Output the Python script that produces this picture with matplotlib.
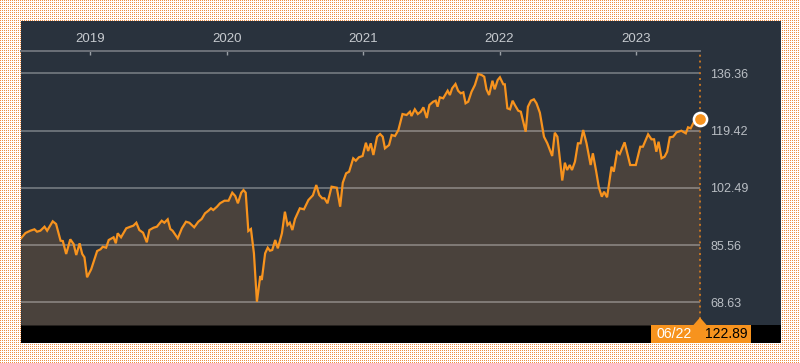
import matplotlib
matplotlib.use('Agg')
import matplotlib.pyplot as plt
import numpy as np
import pandas as pd
from matplotlib.patches import Rectangle, Polygon

plt.rcParams['font.family'] = ['Liberation Sans', 'DejaVu Sans']

# ---------------- data ----------------
date_strings = [
    "2018-06-29", "2018-07-11", "2018-07-24", "2018-08-04", "2018-08-11", "2018-08-20", "2018-08-31",
    "2018-09-07", "2018-09-22", "2018-10-01", "2018-10-13", "2018-10-19", "2018-10-28", "2018-11-08",
    "2018-11-17", "2018-11-24", "2018-12-03", "2018-12-10", "2018-12-16", "2018-12-23", "2019-01-03",
    "2019-01-19", "2019-01-28", "2019-02-03", "2019-02-12", "2019-02-19", "2019-03-04", "2019-03-10",
    "2019-03-15", "2019-03-24", "2019-04-07", "2019-04-18", "2019-04-26", "2019-05-04", "2019-05-12",
    "2019-05-22", "2019-06-01", "2019-06-08", "2019-06-19", "2019-06-28", "2019-07-11", "2019-07-18",
    "2019-07-27", "2019-08-03", "2019-08-09", "2019-08-23", "2019-09-03", "2019-09-14", "2019-09-23",
    "2019-10-06", "2019-10-17", "2019-10-26", "2019-11-04", "2019-11-13", "2019-11-20", "2019-11-26",
    "2019-12-06", "2019-12-14", "2019-12-26", "2020-01-06", "2020-01-16", "2020-01-24", "2020-01-31",
    "2020-02-09", "2020-02-15", "2020-02-21", "2020-02-28", "2020-03-06", "2020-03-14", "2020-03-22",
    "2020-03-31", "2020-04-04", "2020-04-13", "2020-04-20", "2020-04-26", "2020-05-02", "2020-05-10",
    "2020-05-17", "2020-05-28", "2020-06-05", "2020-06-12", "2020-06-18", "2020-06-25", "2020-07-02",
    "2020-07-15", "2020-07-26", "2020-08-07", "2020-08-19", "2020-08-28", "2020-09-05", "2020-09-13",
    "2020-09-19", "2020-09-27", "2020-10-08", "2020-10-22", "2020-10-31", "2020-11-07", "2020-11-16",
    "2020-11-24", "2020-12-05", "2020-12-12", "2020-12-20", "2020-12-30", "2021-01-08", "2021-01-14",
    "2021-01-21", "2021-01-28", "2021-02-07", "2021-02-15", "2021-02-22", "2021-02-28", "2021-03-11",
    "2021-03-18", "2021-03-27", "2021-04-05", "2021-04-16", "2021-04-27", "2021-05-06", "2021-05-10",
    "2021-05-19", "2021-05-27", "2021-06-04", "2021-06-11", "2021-06-20", "2021-06-27", "2021-07-07",
    "2021-07-14", "2021-07-19", "2021-07-25", "2021-08-03", "2021-08-15", "2021-08-21", "2021-08-27",
    "2021-09-05", "2021-09-12", "2021-09-19", "2021-09-26", "2021-10-02", "2021-10-09", "2021-10-18",
    "2021-10-27", "2021-11-05", "2021-11-14", "2021-11-21", "2021-11-27", "2021-12-04", "2021-12-13",
    "2021-12-19", "2021-12-27", "2022-01-02", "2022-01-11", "2022-01-15", "2022-01-22", "2022-01-29",
    "2022-02-05", "2022-02-11", "2022-02-20", "2022-02-27", "2022-03-12", "2022-03-18", "2022-03-26",
    "2022-04-03", "2022-04-10", "2022-04-19", "2022-04-30", "2022-05-09", "2022-05-22", "2022-05-29",
    "2022-06-05", "2022-06-18", "2022-06-25", "2022-07-01", "2022-07-08", "2022-07-14", "2022-07-22",
    "2022-07-30", "2022-08-06", "2022-08-13", "2022-08-22", "2022-09-02", "2022-09-08", "2022-09-17",
    "2022-09-24", "2022-10-02", "2022-10-08", "2022-10-16", "2022-10-28", "2022-11-03", "2022-11-12",
    "2022-11-19", "2022-12-02", "2022-12-17", "2023-01-01", "2023-01-13", "2023-01-20", "2023-02-03",
    "2023-02-12", "2023-02-19", "2023-02-25", "2023-03-03", "2023-03-11", "2023-03-19", "2023-03-26",
    "2023-04-02", "2023-04-11", "2023-04-20", "2023-05-03", "2023-05-15", "2023-05-21", "2023-05-28",
    "2023-06-06", "2023-06-12", "2023-06-22",
]
values = [
    87.56, 89.13, 89.81, 90.22, 89.51, 89.81, 90.99,
    89.81, 92.59, 91.79, 86.85, 86.76, 82.92, 87.26,
    85.87, 82.62, 86.08, 82.92, 81.94, 76.03, 78.39,
    83.80, 84.31, 85.07, 84.78, 87.06, 87.86, 86.08,
    89.04, 87.86, 90.52, 90.99, 91.29, 92.17, 90.01,
    89.22, 86.38, 90.01, 90.69, 90.99, 92.76, 92.17,
    93.18, 90.31, 89.81, 87.56, 90.52, 92.47, 92.17,
    90.81, 92.47, 93.27, 94.95, 95.72, 96.43, 95.93,
    96.91, 97.91, 98.68, 98.68, 101.05, 100.07, 97.91,
    101.05, 101.84, 101.05, 89.72, 90.31, 83.12, 68.81,
    76.41, 75.23, 83.12, 84.78, 83.89, 84.10, 87.06,
    84.60, 89.04, 95.43, 91.49, 92.17, 90.01, 93.27,
    96.43, 96.14, 98.89, 100.28, 103.32, 100.37, 99.39,
    99.39, 97.91, 102.82, 102.53, 96.91, 104.00, 106.78,
    107.26, 111.22, 110.51, 111.52, 111.90, 115.83, 113.38,
    115.66, 112.20, 117.61, 118.41, 117.61, 114.18, 115.15,
    118.11, 117.82, 119.59, 124.32, 124.03, 125.00, 123.73,
    125.71, 124.32, 125.00, 126.30, 123.14, 126.98, 127.96,
    128.26, 126.48, 129.26, 128.97, 131.21, 129.94, 131.92,
    133.20, 131.21, 130.44, 130.74, 127.49, 127.96, 130.92,
    132.90, 136.15, 135.86, 135.35, 131.63, 129.94, 134.17,
    131.63, 134.38, 135.18, 133.11, 133.11, 126.01, 125.71,
    128.26, 126.98, 125.30, 125.00, 119.09, 126.48, 128.26,
    128.67, 127.49, 124.71, 117.61, 115.66, 111.90, 118.79,
    117.61, 104.65, 109.92, 107.76, 109.24, 107.76, 110.22,
    115.66, 115.66, 119.59, 115.66, 109.24, 112.70, 107.26,
    102.64, 99.86, 101.34, 99.69, 108.74, 107.26, 113.17,
    112.49, 115.95, 109.24, 109.24, 114.65, 114.65, 118.32,
    116.84, 116.84, 113.17, 116.13, 111.22, 111.69, 113.17,
    117.43, 117.61, 118.91, 119.38, 118.61, 120.39, 120.09,
    122.05, 121.36, 122.89,
]
y_ticks = [68.63, 85.56, 102.49, 119.42, 136.36]
year_ticks = ["2019-01-01", "2020-01-01", "2021-01-01", "2022-01-01", "2023-01-01"]
year_labels = ["2019", "2020", "2021", "2022", "2023"]

dates = pd.to_datetime(date_strings)
year_dates = pd.to_datetime(year_ticks)

# ---------------- styling ----------------
PANEL = '#29323d'
AREA = '#4a423c'
ORANGE = '#f7931e'
W, H = 800, 363

fig = plt.figure(figsize=(W / 100, H / 100), dpi=100)

# background (dotted pattern + panel)
bg = fig.add_axes([0, 0, 1, 1], zorder=0)
bg.set_xlim(0, W); bg.set_ylim(H, 0); bg.axis('off')
yy, xx = np.mgrid[0:H, 0:W]
pat = np.ones((H, W, 3))
pat[(yy % 2 == 0) & (xx % 2 == 0)] = [0.93, 0.56, 0.27]
bg.imshow(pat, extent=[0, W, H, 0], interpolation='nearest', aspect='auto')
bg.add_patch(Rectangle((21, 21), 760, 304, color=PANEL, lw=0))
bg.add_patch(Rectangle((21, 325), 760, 18, color='black', lw=0))

# main chart
ax = fig.add_axes([21 / W, (H - 325) / H, 679 / W, 274 / H], zorder=5)
ax.set_facecolor('none')
ymin, ymax = 61.92, 142.96
ax.fill_between(dates, values, ymin, color=AREA, lw=0, zorder=1)
ax.plot(dates, values, color=ORANGE, lw=1.6, zorder=3, solid_joinstyle='miter')
ax.set_ylim(ymin, ymax)
ax.set_xlim(dates[0], dates[-1])

ax.set_yticks(y_ticks)
ax.set_yticklabels([f"{v:.2f}" for v in y_ticks])
ax.yaxis.tick_right()
ax.tick_params(axis='y', length=0, pad=7.5, labelsize=9, labelcolor='#b9bec4')
ax.grid(axis='y', color='white', alpha=0.3, lw=1.4)
ax.set_axisbelow('line')

ax.set_xticks(year_dates)
ax.set_xticklabels(year_labels)
ax.xaxis.tick_top()
ax.tick_params(axis='x', direction='in', length=3, width=1, color='#9aa0a6',
               pad=4.5, labelsize=9.5, labelcolor='#c6cacf')

for s in ['left', 'right', 'bottom']:
    ax.spines[s].set_visible(False)
ax.spines['top'].set_color('#6b7078')
ax.spines['top'].set_linewidth(1.4)

# current value marker and dotted vertical line
ax.axvline(dates[-1], color='#c47424', ls=(0, (1, 2)), lw=1.4, zorder=4, clip_on=False)
ax.plot([dates[-1]], [values[-1]], 'o', ms=9.5, mfc=ORANGE, mec='white', mew=1.8,
        zorder=6, clip_on=False)

# bottom label box
ov = fig.add_axes([0, 0, 1, 1], zorder=10)
ov.set_xlim(0, W); ov.set_ylim(H, 0); ov.axis('off'); ov.set_facecolor('none')
ov.add_patch(Rectangle((651, 325), 100, 18, color=ORANGE, lw=0))
ov.add_patch(Polygon([(693, 325.5), (700, 317.5), (707, 325.5)], closed=True, color=ORANGE, lw=0))
ov.text(674.5, 334.5, dates[-1].strftime('%m/%d'), color='white', fontsize=10.2,
        ha='center', va='center')
ov.text(726, 334.5, f"{values[-1]:.2f}", color='black', fontsize=10,
        ha='center', va='center')

fig.savefig('out.png', dpi=100)
